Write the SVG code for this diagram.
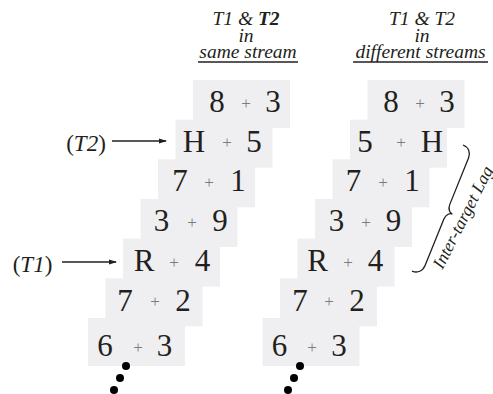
<svg xmlns="http://www.w3.org/2000/svg" width="493" height="394" viewBox="0 0 493 394">
<defs>
<style>
.box{fill:#efeff1;}
.d{font-family:"Liberation Serif","Times New Roman",serif;font-size:31px;fill:#231f20;text-anchor:middle;}
.p{font-family:"Liberation Serif","Times New Roman",serif;font-size:17px;fill:#7a7b7d;text-anchor:middle;}
.h{font-family:"Liberation Serif","Times New Roman",serif;font-size:19.5px;font-style:italic;fill:#231f20;text-anchor:middle;}
.lag{font-family:"Liberation Serif","Times New Roman",serif;font-size:17.5px;font-style:italic;fill:#231f20;text-anchor:middle;}
.lbl{font-family:"Liberation Serif","Times New Roman",serif;font-size:23px;fill:#231f20;text-anchor:middle;}
.ul{stroke:#231f20;stroke-width:1.4;}
.dot{fill:#000;}
.arr{stroke:#231f20;stroke-width:1.3;fill:none;}
</style>
<marker id="ah" markerWidth="8" markerHeight="6" refX="7" refY="3" orient="auto" markerUnits="userSpaceOnUse">
<path d="M0,0.5 L8,3 L0,5.5 Z" fill="#231f20"/>
</marker>
</defs>
<rect width="493" height="394" fill="#fff"/>

<g id="header-same">
<text class="h" x="246" y="25">T1 &amp; <tspan font-weight="bold">T2</tspan></text>
<text class="h" x="246" y="42">in</text>
<text class="h" x="248" y="57.5">same stream</text>
<line class="ul" x1="198" y1="62" x2="298" y2="62"/>
</g>
<g id="header-diff">
<text class="h" x="422" y="25">T1 &amp; T2</text>
<text class="h" x="422" y="42">in</text>
<text class="h" x="420.5" y="57.5">different streams</text>
<line class="ul" x1="353" y1="62" x2="488" y2="62"/>
</g>

<g id="left-stream">
<g id="L1"><rect class="box" x="193" y="80" width="97" height="48"/><text class="d" x="217" y="112">8</text><text class="p" x="246" y="108.5">+</text><text class="d" x="273" y="112">3</text></g>
<g id="L2"><rect class="box" x="175.5" y="119.7" width="97" height="48"/><text class="d" x="194" y="151.5">H</text><text class="p" x="227" y="148">+</text><text class="d" x="254" y="151.5">5</text></g>
<g id="L3"><rect class="box" x="158" y="159.3" width="97" height="48"/><text class="d" x="180" y="191">7</text><text class="p" x="209" y="187.5">+</text><text class="d" x="238" y="191">1</text></g>
<g id="L4"><rect class="box" x="140.5" y="199" width="97" height="48"/><text class="d" x="161.5" y="231">3</text><text class="p" x="192" y="227.5">+</text><text class="d" x="220" y="231">9</text></g>
<g id="L5"><rect class="box" x="123" y="238.7" width="97" height="48"/><text class="d" x="144" y="271">R</text><text class="p" x="174" y="267.5">+</text><text class="d" x="202.5" y="271">4</text></g>
<g id="L6"><rect class="box" x="105.5" y="278.3" width="97" height="48"/><text class="d" x="125" y="310.5">7</text><text class="p" x="155" y="307">+</text><text class="d" x="183" y="310.5">2</text></g>
<g id="L7"><rect class="box" x="88" y="318" width="97" height="48"/><text class="d" x="105" y="356">6</text><text class="p" x="138" y="352.5">+</text><text class="d" x="164.5" y="356">3</text></g>
<g id="L-dots"><circle class="dot" cx="126" cy="366" r="4"/><circle class="dot" cx="120" cy="378" r="4"/><circle class="dot" cx="114" cy="390" r="4"/></g>
</g>

<g id="right-stream">
<g id="R1"><rect class="box" x="367.5" y="80" width="97" height="48"/><text class="d" x="391" y="112">8</text><text class="p" x="420" y="108.5">+</text><text class="d" x="447" y="112">3</text></g>
<g id="R2"><rect class="box" x="350" y="119.7" width="97" height="48"/><text class="d" x="365" y="151.5">5</text><text class="p" x="401" y="148">+</text><text class="d" x="432" y="151.5">H</text></g>
<g id="R3"><rect class="box" x="332.5" y="159.3" width="97" height="48"/><text class="d" x="353.5" y="191">7</text><text class="p" x="383" y="187.5">+</text><text class="d" x="412" y="191">1</text></g>
<g id="R4"><rect class="box" x="315" y="199" width="97" height="48"/><text class="d" x="336.5" y="231">3</text><text class="p" x="366" y="227.5">+</text><text class="d" x="393.5" y="231">9</text></g>
<g id="R5"><rect class="box" x="297.5" y="238.7" width="97" height="48"/><text class="d" x="317.5" y="271">R</text><text class="p" x="348" y="267.5">+</text><text class="d" x="375.5" y="271">4</text></g>
<g id="R6"><rect class="box" x="280" y="278.3" width="97" height="48"/><text class="d" x="300" y="310.5">7</text><text class="p" x="329" y="307">+</text><text class="d" x="357" y="310.5">2</text></g>
<g id="R7"><rect class="box" x="262.5" y="318" width="97" height="48"/><text class="d" x="279.5" y="356">6</text><text class="p" x="312" y="352.5">+</text><text class="d" x="339" y="356">3</text></g>
<g id="R-dots"><circle class="dot" cx="300" cy="366" r="4"/><circle class="dot" cx="294" cy="378" r="4"/><circle class="dot" cx="288" cy="390" r="4"/></g>
</g>

<g id="label-T2"><text class="lbl" x="86" y="151">(<tspan font-style="italic">T2</tspan>)</text></g>
<g id="label-T1"><text class="lbl" x="32.5" y="272">(<tspan font-style="italic">T1</tspan>)</text></g>

<g id="connectors">
<line class="arr" x1="112" y1="141" x2="166" y2="141" marker-end="url(#ah)"/>
<line class="arr" x1="62" y1="262" x2="116" y2="262" marker-end="url(#ah)"/>
</g>

<g id="lag-brace">
<path transform="translate(463,145) rotate(112)" d="M0,0 C0,-6 4,-10 10,-10 L60,-10 C65,-10 68,-13 68,-16 C68,-13 71,-10 76,-10 L126,-10 C132,-10 136,-6 136,0" fill="none" stroke="#231f20" stroke-width="1.3"/>
<text class="lag" transform="translate(468,220) rotate(-63)" x="0" y="0">Inter-target Lag</text>
</g>
</svg>
